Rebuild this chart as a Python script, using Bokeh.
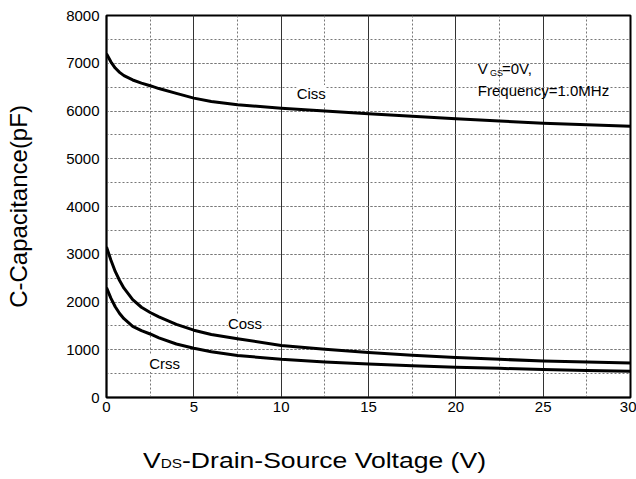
from bokeh.plotting import figure
from bokeh.models import Label, SingleIntervalTicker, Range1d, Div
from bokeh.layouts import column
from bokeh.embed import file_html
from bokeh.resources import INLINE

# ---- data ----
vds = [0, 0.25, 0.5, 0.75, 1, 1.5, 2, 2.5, 3, 4, 5, 6, 7.5, 10, 12.5, 15, 17.5, 20, 22.5, 25, 27.5, 30]
ciss = [7200, 7030, 6900, 6810, 6740, 6650, 6585, 6530, 6470, 6370, 6270, 6200, 6130, 6060, 6000,
        5940, 5890, 5840, 5790, 5745, 5710, 5680]
coss = [3150, 2880, 2640, 2450, 2290, 2050, 1890, 1780, 1690, 1530, 1410, 1320, 1230, 1090, 1010,
        940, 885, 840, 800, 765, 745, 725]
crss = [2300, 2080, 1900, 1760, 1650, 1490, 1400, 1330, 1250, 1120, 1030, 960, 880, 800, 745,
        700, 665, 635, 610, 585, 565, 550]
series_names = ["Ciss", "Coss", "Crss"]

FONT = "Liberation Sans"

p = figure(width=636, height=448, x_range=Range1d(0, 30), y_range=Range1d(0, 8000),
           output_backend="svg", toolbar_location=None,
           min_border_left=106, min_border_right=6, min_border_top=15, min_border_bottom=51)
p.background_fill_color = "white"
p.border_fill_color = "white"
p.outline_line_color = "black"
p.outline_line_width = 2

p.xaxis.ticker = SingleIntervalTicker(interval=5, num_minor_ticks=2)
p.yaxis.ticker = SingleIntervalTicker(interval=1000, num_minor_ticks=2)

for ax in p.axis:
    ax.major_tick_in = 0
    ax.major_tick_out = 0
    ax.minor_tick_in = 0
    ax.minor_tick_out = 0
    ax.axis_line_color = "black"
    ax.axis_line_width = 1.5
    ax.major_label_text_font = FONT
    ax.major_label_text_font_size = "15px"
    ax.major_label_text_color = "black"
p.yaxis.major_label_standoff = 7
p.xaxis.major_label_standoff = 4

p.yaxis.axis_label = "C-Capacitance(pF)"
p.yaxis.axis_label_text_font = FONT
p.yaxis.axis_label_text_font_size = "24px"
p.yaxis.axis_label_text_font_style = "normal"
p.yaxis.axis_label_text_color = "black"
p.yaxis.axis_label_standoff = 31

# grid
p.xgrid.grid_line_color = "#333333"
p.xgrid.grid_line_width = 1
p.xgrid.minor_grid_line_color = "#777777"
p.xgrid.minor_grid_line_dash = "2 2"
p.ygrid.grid_line_color = "#777777"
p.ygrid.grid_line_dash = "2 2"
p.ygrid.minor_grid_line_color = "#777777"
p.ygrid.minor_grid_line_dash = "2 2"

for ys in (ciss, coss, crss):
    p.line(vds, ys, line_color="black", line_width=3, line_join="round")

# curve labels
lab_pos = {"Ciss": (11.72, 6366), "Coss": (7.93, 1550), "Crss": (3.33, 712)}
for name in series_names:
    x, y = lab_pos[name]
    p.add_layout(Label(x=x, y=y, text=name, text_font=FONT, text_font_size="15px",
                       text_align="center", text_baseline="middle", text_color="black",
                       background_fill_color="white"))

# condition annotation
p.add_layout(Label(x=21.26, y=6900, text="V", text_font=FONT, text_font_size="15px",
                   text_baseline="alphabetic", text_color="black"))
p.add_layout(Label(x=21.95, y=6806, text="GS", text_font=FONT, text_font_size="9px",
                   text_baseline="alphabetic", text_color="black"))
p.add_layout(Label(x=22.64, y=6900, text="=0V,", text_font=FONT, text_font_size="15px",
                   text_baseline="alphabetic", text_color="black"))
p.add_layout(Label(x=21.26, y=6429, text="Frequency=1.0MHz", text_font=FONT,
                   text_font_size="15px", text_baseline="alphabetic", text_color="black"))

# x axis title (with smaller "DS"), as real text below the figure
xtitle = Div(
    text=('<div style="margin-left:143px; margin-top:2px; font-family:\'Liberation Sans\'; '
          'font-size:22.5px; line-height:22px; color:black; white-space:nowrap; '
          'transform:scaleX(1.18); transform-origin:left center; display:inline-block;">'
          'V<span style="font-size:13px;">DS</span>-Drain-Source Voltage (V)</div>'),
    width=636, height=31, margin=0)

layout = column(p, xtitle, spacing=0)
open("out.html", "w").write(file_html(layout, INLINE))
